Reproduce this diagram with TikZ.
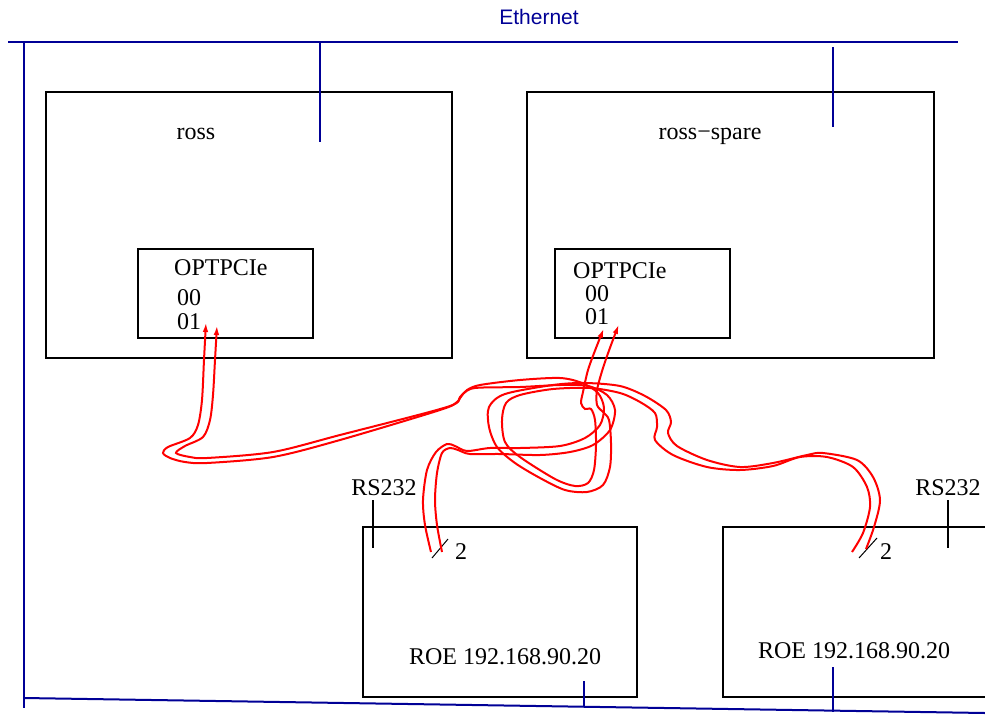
\documentclass[tikz,border=0pt]{standalone}
\usepackage{fontspec}
\setmainfont{Liberation Serif}
\newfontfamily\ethfont{Liberation Sans}
\usetikzlibrary{arrows.meta}
\definecolor{ethblue}{RGB}{0,0,150}

\begin{document}
\begin{tikzpicture}[x=1pt,y=-1pt]
\tikzstyle{every node} = [inner sep=0pt, font=\fontsize{24}{28}\selectfont]
\tikzstyle{box} = [draw, line width=2pt]
\tikzstyle{eth} = [draw=ethblue, line width=2pt]
\tikzstyle{fibre} = [draw=red, line width=2pt, {Latex[length=10pt,width=5.5pt]}-]
\useasboundingbox (0,0) rectangle (985,715);

\node [box, minimum width=406pt, minimum height=266pt] (ross) at (249, 225) {};
\node [box, minimum width=175pt, minimum height=89pt] (card) at (225.5, 293.5) {};
\node [box, minimum width=407pt, minimum height=266pt] (spare) at (730.5, 225) {};
\node [box, minimum width=175pt, minimum height=89pt] (cards) at (642.5, 293.5) {};
\node [box, minimum width=274pt, minimum height=170pt] (roe) at (500, 612) {};
\node [box, minimum width=282pt, minimum height=170pt] (roes) at (864, 612) {};

\node [font=\ethfont\fontsize{21}{24}\selectfont, text=ethblue] (ethlbl) at (539, 17) {Ethernet};
\node [anchor=base] (rosslbl) at (196, 139) {ross};
\node [anchor=base] (sparelbl) at (710, 139) {ross−spare};
\node [anchor=west] (opt) at (174, 268) {OPTPCIe};
\node [anchor=west] (p00) at (177, 298) {00};
\node [anchor=west] (p01) at (177, 322) {01};
\node [anchor=west] (opts) at (573, 271) {OPTPCIe};
\node [anchor=west] (s00) at (585, 294) {00};
\node [anchor=west] (s01) at (585, 317) {01};
\node (rs) at (384, 488) {RS232};
\node (rss) at (948, 488) {RS232};
\node (two) at (461, 552) {2};
\node (twos) at (886, 552) {2};
\node (roelbl) at (505, 657) {ROE 192.168.90.20};
\node (roeslbl) at (854, 651) {ROE 192.168.90.20};

\coordinate (busl) at (8, 42);
\coordinate (busr) at (958, 42);
\coordinate (botl) at (24, 698);
\coordinate (botr) at (985, 713);
\draw [eth] (busl) -- (busr);
\draw [eth] (24, 42) -- (24, 708);
\draw [eth] (botl) -- (botr);
\draw [eth] (320, 42) -- (320, 142);
\draw [eth] (833, 47) -- (833, 127);
\draw [eth] (584, 681) -- (584, 707);
\draw [eth] (833, 667) -- (833, 712);

\draw [box] (373, 500) -- (373, 548);
\draw [box] (948, 500) -- (948, 548);
\draw [line width=1pt] (432, 558) -- (448, 539);
\draw [line width=1pt] (859, 558) -- (877, 538);

\coordinate (ra) at (206, 322);
\coordinate (rb) at (217, 325);
\coordinate (sa) at (604, 328);
\coordinate (sb) at (619, 324);
\coordinate (ea) at (431, 552);
\coordinate (eb) at (442, 552);
\coordinate (fa) at (852, 552);
\coordinate (fb) at (866, 549);

\draw [fibre] plot [smooth] coordinates {(ra) (204,360) (202,400) (198,425) (190,438) (168,447) (163,453) (170,458) (185,462) (207,463) (273,457) (340,440) (440,410) (457,402) (463,394) (475,388) (520,387) (560,385) (588,386) (607,395) (615,410) (610,430) (593,445) (570,452) (540,455) (500,454) (470,454) (458,450) (450,448) (442,453) (437,473) (435,500) (437,525) (eb)};
\draw [fibre] plot [smooth] coordinates {(rb) (215,360) (213,395) (210,420) (203,437) (185,446) (176,453) (190,457) (207,458) (273,452) (340,435) (447,407) (460,397) (467,390) (480,385) (520,380) (560,378) (582,383) (598,393) (604,408) (600,425) (585,438) (560,446) (520,448) (490,448) (467,451) (455,446) (447,444) (436,452) (427,470) (423,500) (425,525) (ea)};
\draw [fibre] plot [smooth] coordinates {(sb) (611,345) (603,368) (597,390) (597,405) (603,412) (609,420) (611,443) (610,467) (603,485) (587,492) (565,490) (540,478) (515,463) (497,447) (489,427) (489,407) (505,394) (553,385) (585,383) (620,386) (645,396) (666,410) (671,422) (668,433) (677,446) (707,460) (740,467) (773,463) (807,455) (823,453) (857,460) (873,477) (880,500) (874,527) (fb)};
\draw [fibre] plot [smooth] coordinates {(sa) (596,348) (588,370) (583,392) (581,403) (585,409) (591,409) (595,420) (596,445) (594,470) (588,483) (575,486) (555,479) (520,457) (505,442) (502,420) (506,403) (520,395) (553,389) (590,388) (620,393) (640,402) (655,413) (657,427) (655,440) (673,455) (707,467) (740,470) (773,466) (800,457) (827,457) (853,467) (867,487) (870,507) (863,533) (fa)};
\end{tikzpicture}
\end{document}
